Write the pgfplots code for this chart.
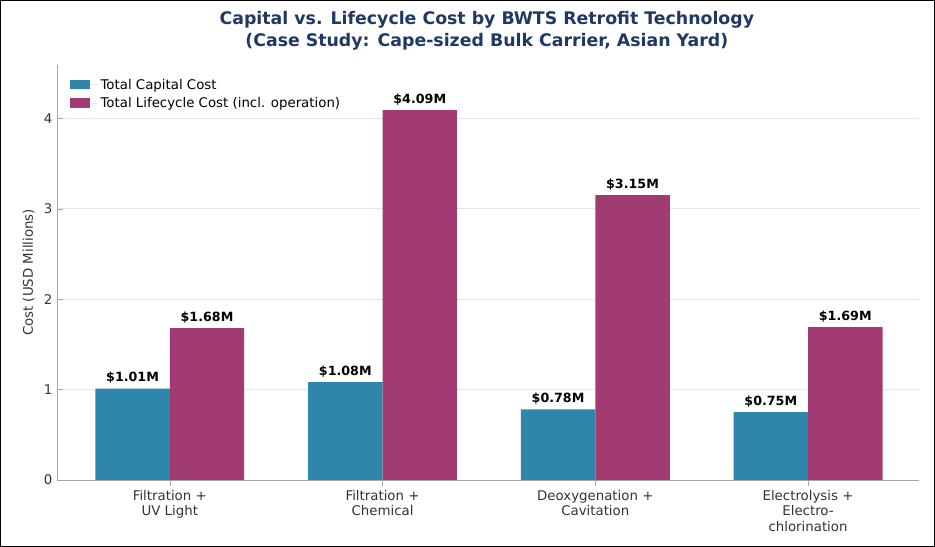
\documentclass[border=0pt]{standalone}
\usepackage{pgfplots}
\pgfplotsset{compat=1.18}
\usepackage{fontspec}
\setmainfont{DejaVu Sans}
\definecolor{cblue}{HTML}{2E86AB}
\definecolor{cmag}{HTML}{A23B72}
\definecolor{ctitle}{HTML}{1F3864}
\definecolor{ctext}{HTML}{333333}
\begin{document}
\begin{tikzpicture}
\path[use as bounding box] (0,0) rectangle (701pt,410pt);
\begin{axis}[at={(42.75pt,50.25pt)}, anchor=south west, scale only axis,
  width=646pt, height=311pt,
  ybar, bar width=0.35,
  xmin=-0.53, xmax=3.52, ymin=0, ymax=4.59,
  xtick={0,1,2,3}, xticklabels={{Filtration +\\UV Light},{Filtration +\\Chemical},{Deoxygenation +\\Cavitation},{Electrolysis +\\Electro-\\chlorination}},
  xticklabel style={align=center, font=\fontsize{10}{11.5}\selectfont, text=ctext},
  ytick={0,1,2,3,4},
  yticklabel style={font=\fontsize{10}{12}\selectfont, text=ctext},
  /pgf/number format/assume math mode=true,
  ylabel={Cost (USD Millions)}, ylabel style={font=\fontsize{10}{12}\selectfont, text=ctext},
  axis x line*=bottom, axis y line*=left,
  axis line style={gray!70}, tick style={gray!70},
  ymajorgrids, grid style={gray!20},
  legend style={at={(0.01,0.98)}, anchor=north west, draw=none, fill=none, font=\fontsize{10}{12}\selectfont, legend cell align=left, row sep=1pt},
  legend image code/.code={\fill[#1] (0pt,-3pt) rectangle (15pt,4pt); \path (0pt,0pt) -- (21pt,0pt);},
  nodes near coords={\$\pgfmathprintnumber[fixed,precision=2,fixed zerofill]{\pgfplotspointmeta}M},
  nodes near coords style={font=\bfseries\fontsize{9.5}{11}\selectfont, text=black},
]
\addplot[fill=cblue, draw=none, bar shift=-0.175] coordinates {(0,1.01) (1,1.08) (2,0.78) (3,0.75)};
\addplot[fill=cmag, draw=none, bar shift=0.175] coordinates {(0,1.68) (1,4.09) (2,3.15) (3,1.69)};
\legend{Total Capital Cost, Total Lifecycle Cost (incl. operation)}
\end{axis}
\node[font=\bfseries\fontsize{13}{16}\selectfont, text=ctitle, align=center] at (365pt,387pt) {Capital vs. Lifecycle Cost by BWTS Retrofit Technology\\(Case Study: Cape-sized Bulk Carrier, Asian Yard)};
\draw[black, line width=0.8pt] (0.4pt,0.4pt) rectangle (700.6pt,409.6pt);
\end{tikzpicture}
\end{document}
